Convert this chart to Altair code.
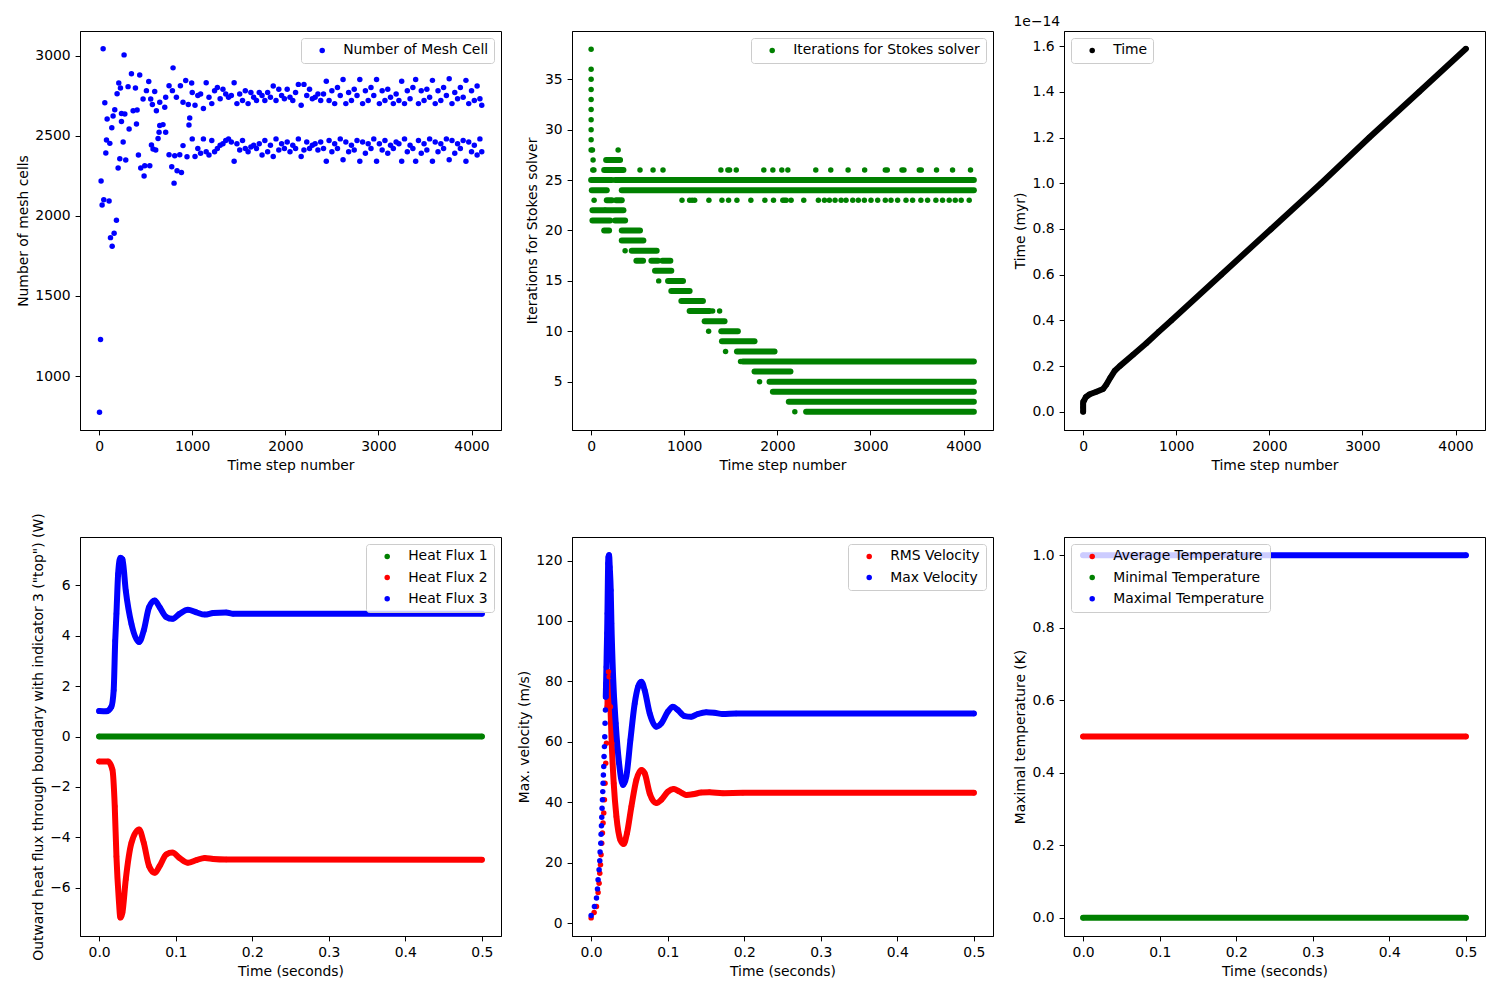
import altair as alt
import pandas as pd

FONT = "DejaVu Sans"
FS = 13.9
BLUE, GREEN, RED, BLACK = "#0000ff", "#008000", "#ff0000", "#000000"

# ---------------- axis ticks / domains ----------------
STEP_TICKS = [0, 1000, 2000, 3000, 4000]
STEP_DOMAIN = [-205.5, 4316.5]
TIME_TICKS = [0.0, 0.1, 0.2, 0.3, 0.4, 0.5]
TIME_DOMAIN = [-0.025, 0.525]
MESH_TICKS = [1000, 1500, 2000, 2500, 3000]
MESH_DOMAIN = [664, 3153]
ITER_TICKS = [5, 10, 15, 20, 25, 30, 35]
ITER_DOMAIN = [0.2, 39.8]
TIMEMYR_TICKS = [0.0, 0.2, 0.4, 0.6, 0.8, 1.0, 1.2, 1.4, 1.6]
TIMEMYR_DOMAIN = [-0.0794, 1.666]
FLUX_TICKS = [-6, -4, -2, 0, 2, 4, 6]
FLUX_DOMAIN = [-7.92, 7.92]
VEL_TICKS = [0, 20, 40, 60, 80, 100, 120]
VEL_DOMAIN = [-4.3, 127.8]
TEMP_TICKS = [0.0, 0.2, 0.4, 0.6, 0.8, 1.0]
TEMP_DOMAIN = [-0.05, 1.05]

# ---------------- panel 1 : number of mesh cells ----------------
mesh_early_steps = [4, 15, 21, 32, 50, 107, 122, 140, 161, 186, 43, 268, 347, 436, 794, 211, 229, 311, 390, 533,
                    193, 61, 168, 86, 136, 150, 240, 276, 240, 322, 365, 408, 401, 472, 508, 597, 554, 572, 615, 651,
                    705, 715, 751, 787, 830, 873, 930, 994, 901, 958, 973, 965, 651, 686, 715, 644, 633, 79, 115, 258,
                    72, 422, 562, 579, 608, 222, 286, 204, 447, 490, 544, 483, 751, 812, 866, 780, 837, 884, 805, 901,
                    944]
mesh_early_cells = [775, 1229, 2217, 2067, 2100, 2092, 1864, 1810, 1892, 1973, 3042, 3004, 2886, 2879, 2923, 2829, 2798, 2806, 2798, 2838,
                    2762, 2706, 2662, 2604, 2550, 2623, 2639, 2635, 2589, 2542, 2656, 2660, 2573, 2729, 2781, 2775, 2729, 2694, 2656, 2708,
                    2677, 2740, 2812, 2781, 2740, 2812, 2844, 2829, 2708, 2694, 2610, 2567, 2563, 2569, 2521, 2521, 2483, 2473, 2452, 2460,
                    2392, 2379, 2442, 2417, 2411, 2356, 2348, 2298, 2298, 2313, 2313, 2248, 2381, 2375, 2381, 2306, 2281, 2271, 2204, 2438,
                    2369]
mesh_late_steps = [1000, 1030, 1060, 1090, 1120, 1150, 1180, 1210, 1240, 1270, 1300, 1330, 1360, 1390,
                   1420, 1450, 1480, 1510, 1540, 1570, 1600, 1630, 1660, 1690, 1720, 1750, 1780, 1810, 1840, 1870, 1900, 1930, 1960, 1990,
                   2020, 2050, 2080, 2110, 2140, 2170, 2200, 2230, 2260, 2290, 2320, 2350, 2380, 2410,
                   2440, 2470, 2500, 2530, 2560, 2590, 2620, 2650, 2680, 2710, 2740, 2770, 2800, 2830, 2860, 2890, 2920, 2950, 2980, 3010,
                   3040, 3070, 3100, 3130, 3160, 3190, 3220, 3250, 3280, 3310, 3340, 3370, 3400, 3430, 3460, 3490, 3520, 3550, 3580, 3610,
                   3640, 3670, 3700, 3730, 3760, 3790, 3820, 3850, 3880, 3910, 3940, 3970, 4000, 4030, 4060, 4090,
                   4110]
mesh_upper_cells = [2770, 2690, 2750, 2760, 2670, 2830, 2740, 2700, 2780, 2800, 2730, 2790, 2760, 2740,
                    2750, 2830, 2700, 2760, 2720, 2780, 2700, 2770, 2740, 2720, 2770, 2750, 2720, 2770, 2740, 2810, 2720, 2790, 2750, 2730,
                    2790, 2740, 2720, 2770, 2820, 2690, 2820, 2750, 2790, 2730, 2740, 2760, 2720, 2760,
                    2840, 2720, 2780, 2700, 2800, 2750, 2850, 2700, 2770, 2720, 2790, 2750, 2850, 2700, 2780, 2720, 2800, 2750, 2850, 2700,
                    2780, 2720, 2790, 2740, 2700, 2760, 2720, 2840, 2700, 2780, 2730, 2800, 2850, 2700, 2780, 2720, 2790, 2740, 2845, 2700,
                    2780, 2720, 2800, 2750, 2855, 2700, 2770, 2730, 2800, 2740, 2845, 2700, 2780, 2720, 2810, 2730,
                    2690]
mesh_lower_cells = [2480, 2370, 2420, 2390, 2480, 2400, 2380, 2470, 2400, 2420, 2440, 2450, 2470, 2480,
                    2460, 2340, 2450, 2410, 2470, 2420, 2400, 2430, 2440, 2420, 2450, 2380, 2470, 2400, 2440, 2370, 2480, 2410, 2450, 2420,
                    2460, 2400, 2440, 2420, 2480, 2370, 2410, 2460, 2420, 2440, 2450, 2410, 2460, 2420,
                    2340, 2470, 2400, 2450, 2420, 2480, 2350, 2460, 2400, 2440, 2410, 2470, 2340, 2460, 2390, 2450, 2420, 2480, 2340, 2450,
                    2410, 2470, 2390, 2440, 2420, 2460, 2450, 2340, 2480, 2400, 2440, 2420, 2340, 2470, 2390, 2450, 2410, 2480, 2340, 2460,
                    2400, 2450, 2420, 2480, 2350, 2470, 2390, 2450, 2420, 2470, 2340, 2460, 2400, 2440, 2380, 2480,
                    2400]

# ---------------- panel 2 : Stokes iterations ----------------
# isolated dots: (level, step)
iter_misc_dots = [(38, 0), (36, 0), (35, 0), (34, 0), (33, 0), (32, 0), (31, 0), (30, 0), (29, 0), (28, 0),
                  (28, 14), (27, 21), (28, 290), (23, 32), (18, 365), (15, 726), (12, 1305), (12, 1380),
                  (10, 1262), (8, 1444), (7, 1605), (5, 1809), (2, 2188)]
iter26_steps = [18, 30, 525, 665, 772, 1394, 1469, 1487, 1559, 1855, 1952, 2048, 2113, 2413, 2574, 2760, 2938,
                3160, 3181, 3339, 3360, 3525, 3546, 3710, 3882, 4075]
iter23_steps = [976, 1058, 1085, 1112, 1265, 1405, 1476, 1566, 1716, 1866, 1959, 2059, 2077, 2095, 2148, 2284,
                2441, 2506, 2559, 2620, 2685, 2738, 2810, 2870, 2935, 3006, 3078, 3160, 3221, 3292, 3382, 3453,
                3542, 3614, 3703, 3775, 3846, 3911, 3975, 4061]
# continuous runs of dots: (level, first step, last step)
iter_runs = [(27, 161, 311), (26, 140, 347), (25, 0, 222), (25, 257, 4111), (24, 7, 168), (24, 329, 4111),
             (23, 168, 222), (23, 268, 329), (22, 14, 143), (22, 157, 347), (21, 14, 204), (21, 257, 365),
             (20, 140, 193), (20, 329, 525), (19, 329, 561), (18, 436, 704), (17, 486, 558), (17, 647, 718),
             (17, 765, 851), (16, 686, 861), (15, 826, 987), (14, 861, 1058), (13, 969, 1201), (12, 1058, 1273),
             (11, 1219, 1433), (10, 1398, 1576), (9, 1405, 1755), (8, 1566, 1970), (7, 1630, 4111),
             (6, 1755, 2141), (5, 1916, 4111), (4, 1952, 4111), (3, 2123, 4111), (2, 2309, 4111)]

# ---------------- panel 3 : model time (units of 1e-14) ----------------
time_steps = [0, 0, 0, 2, 11, 30, 71, 143, 214, 250, 293, 340, 393, 536, 679, 811, 947, 1483, 2020, 2556, 3074, 3610, 4111]
time_values = [0.0, 0.02, 0.035, 0.045, 0.05, 0.065, 0.077, 0.088, 0.10, 0.12, 0.15, 0.18, 0.20, 0.25, 0.30, 0.35,
               0.40, 0.60, 0.80, 1.00, 1.20, 1.40, 1.588]

# ---------------- panel 4 : heat flux ----------------
flux1_t = [0.0, 0.5]
flux1_v = [0.0, 0.0]
flux2_t = [0.0, 0.0117, 0.0174, 0.0204, 0.0226, 0.0257, 0.0278, 0.0304, 0.0348, 0.0422, 0.0522, 0.0583, 0.0652, 0.0726,
           0.0791, 0.0878, 0.0957, 0.105, 0.116, 0.127, 0.138, 0.149, 0.166, 0.5]
flux2_v = [-0.99, -0.99, -1.32, -2.77, -4.76, -6.47, -7.19, -6.99, -5.67, -4.22, -3.69, -4.22, -5.14, -5.41,
           -5.14, -4.68, -4.61, -4.82, -5.01, -4.91, -4.82, -4.86, -4.88, -4.89]
flux3_t = [0.0, 0.0096, 0.016, 0.019, 0.021, 0.0226, 0.0248, 0.0278, 0.0304, 0.0348, 0.0422, 0.0522, 0.0583, 0.0652,
           0.0726, 0.0791, 0.0878, 0.0957, 0.105, 0.116, 0.127, 0.138, 0.149, 0.166, 0.175, 0.5]
flux3_v = [1.01, 1.0, 1.18, 1.84, 3.8, 4.87, 6.45, 7.1, 7.04, 5.79, 4.47, 3.75, 4.21, 5.13,
           5.4, 5.13, 4.74, 4.67, 4.87, 5.03, 4.93, 4.84, 4.9, 4.92, 4.87, 4.87]

# ---------------- panel 5 : velocities ----------------
rms_sparse_t = [0.0, 0.0039, 0.007, 0.0091, 0.0104, 0.0113, 0.0122, 0.013, 0.0139, 0.0148, 0.0156, 0.0165, 0.0174,
                0.0182, 0.0191, 0.02, 0.0213]
rms_sparse_v = [1.7, 3.5, 5.5, 10.1, 13.2, 16.5, 19.3, 22.6, 26.4, 29.8, 33.1, 36.4, 40.8, 46.3, 52.9, 59.5, 71.6]
rms_dense_t = [0.0213, 0.0226, 0.0235, 0.0252, 0.0269, 0.0295, 0.033, 0.0382, 0.0426, 0.0469, 0.0526, 0.0591, 0.0656,
               0.0699, 0.0765, 0.0851, 0.0917, 0.1003, 0.1077, 0.1156, 0.1242, 0.1329, 0.1438, 0.1546, 0.172, 0.1981, 0.5]
rms_dense_v = [71.6, 83.2, 81.5, 71.6, 59.5, 46.3, 35.3, 27.5, 26.2, 29.8, 38.6, 47.4, 50.7,
               49.6, 42.9, 39.7, 40.8, 43.5, 44.4, 43.5, 42.4, 42.6, 43.2, 43.3, 43.0, 43.1, 43.1]
max_sparse_t = [0.0, 0.0043, 0.007, 0.0083, 0.0091, 0.0104, 0.0113, 0.0117, 0.0126, 0.013, 0.0135, 0.0139, 0.0143,
                0.0148, 0.0152, 0.0156, 0.016, 0.0165, 0.0169, 0.0174, 0.0178, 0.0182, 0.0187, 0.0191]
max_sparse_v = [2.5, 5.5, 8.3, 11.3, 14.3, 17.6, 20.6, 23.5, 26.4, 29.4, 32.2, 35.0, 38.0,
                40.8, 43.5, 46.3, 49.0, 51.8, 55.1, 58.4, 61.7, 66.1, 70.5, 74.9]
max_dense_t = [0.0191, 0.0195, 0.02, 0.0204, 0.0209, 0.0213, 0.0217, 0.0222, 0.0226, 0.0235, 0.0243, 0.0256, 0.0265,
               0.0287, 0.0321, 0.0365, 0.0417, 0.046, 0.0513, 0.0569, 0.0613, 0.0656, 0.0699, 0.0765, 0.0851, 0.0917,
               0.1003, 0.1069, 0.1134, 0.1221, 0.1308, 0.1394, 0.1503, 0.1612, 0.172, 0.1894, 0.5]
max_dense_v = [74.9, 79.3, 84.8, 90.4, 95.9, 102.5, 110.2, 119.0, 121.2, 121.8, 117.9, 110.2, 99.2,
               81.5, 66.1, 52.9, 45.7, 48.5, 60.6, 72.7, 78.2, 79.9, 77.1, 69.4, 65.0, 66.1,
               70.0, 71.6, 70.5, 68.5, 68.3, 69.2, 69.8, 69.6, 69.2, 69.4, 69.4]

# ---------------- panel 6 : temperatures ----------------
temp_t = [0.0, 0.5]
temp_avg = [0.5, 0.5]
temp_min = [0.0, 0.0]
temp_max = [1.0, 1.0]

W, H = 421, 399


def legend(orient):
    return alt.Legend(title=None, orient=orient)


def xq(field, domain, ticks, fmt, title):
    return alt.X(field, type="quantitative",
                 scale=alt.Scale(domain=domain, nice=False, zero=False),
                 axis=alt.Axis(values=ticks, format=fmt, title=title))


def yq(field, domain, ticks, fmt, title):
    return alt.Y(field, type="quantitative",
                 scale=alt.Scale(domain=domain, nice=False, zero=False),
                 axis=alt.Axis(values=ticks, format=fmt, title=title))


def series_lines(df, names, colors, x, y, interp="linear"):
    out = []
    for n, c in zip(names, colors):
        out.append(
            alt.Chart(df).transform_filter(alt.FieldEqualPredicate(field="s", equal=n)).mark_line(
                color=c, strokeWidth=6, strokeCap="round", strokeJoin="round", interpolate=interp
            ).encode(x=x, y=y)
        )
    return out


# ----- panel 1 -----
df1 = pd.DataFrame({
    "step": mesh_early_steps + mesh_late_steps + mesh_late_steps,
    "cells": mesh_early_cells + mesh_upper_cells + mesh_lower_cells,
})
df1["s"] = "Number of Mesh Cell"
p1 = alt.Chart(df1).mark_circle(size=30, opacity=1).encode(
    x=xq("step", STEP_DOMAIN, STEP_TICKS, "d", "Time step number"),
    y=yq("cells", MESH_DOMAIN, MESH_TICKS, "d", "Number of mesh cells"),
    color=alt.Color("s:N", scale=alt.Scale(domain=["Number of Mesh Cell"], range=[BLUE]), legend=legend("top-right")),
).properties(width=W, height=H)

# ----- panel 2 -----
dot_levels = [d[0] for d in iter_misc_dots] + [26] * len(iter26_steps) + [23] * len(iter23_steps)
dot_steps = [d[1] for d in iter_misc_dots] + iter26_steps + iter23_steps
df2d = pd.DataFrame({"step": dot_steps, "level": dot_levels})
df2d["s"] = "Iterations for Stokes solver"
df2r = pd.DataFrame(iter_runs, columns=["level", "start", "end"])
runs2 = alt.Chart(df2r).mark_rule(strokeWidth=6, strokeCap="round", color=GREEN).encode(
    x=xq("start", STEP_DOMAIN, STEP_TICKS, "d", "Time step number"),
    x2="end:Q",
    y=yq("level", ITER_DOMAIN, ITER_TICKS, "d", "Iterations for Stokes solver"),
)
dots2 = alt.Chart(df2d).mark_circle(size=30, opacity=1).encode(
    x=xq("step", STEP_DOMAIN, STEP_TICKS, "d", "Time step number"),
    y=yq("level", ITER_DOMAIN, ITER_TICKS, "d", "Iterations for Stokes solver"),
    color=alt.Color("s:N", scale=alt.Scale(domain=["Iterations for Stokes solver"], range=[GREEN]),
                    legend=legend("top-right")),
)
p2 = alt.layer(runs2, dots2).properties(width=W, height=H)

# ----- panel 3 -----
df3 = pd.DataFrame({"step": time_steps, "tm": time_values})
df3["s"] = "Time"
x3 = xq("step", STEP_DOMAIN, STEP_TICKS, "d", "Time step number")
y3 = yq("tm", TIMEMYR_DOMAIN, TIMEMYR_TICKS, ".1f", "Time (myr)")
pts3 = alt.Chart(df3).mark_circle(size=30, opacity=1).encode(
    x=x3, y=y3,
    color=alt.Color("s:N", scale=alt.Scale(domain=["Time"], range=[BLACK]), legend=legend("top-left")),
)
p3 = alt.layer(*series_lines(df3, ["Time"], [BLACK], x3, y3), pts3).properties(
    width=W, height=H,
    title=alt.TitleParams("1e\u221214", anchor="start", fontSize=FS, font=FONT, fontWeight="normal",
                          color="black", offset=2),
)

# ----- panel 4 -----
flux_names = ["Heat Flux 1", "Heat Flux 2", "Heat Flux 3"]
flux_colors = [GREEN, RED, BLUE]
df4 = pd.concat([
    pd.DataFrame({"t": flux1_t, "v": flux1_v, "s": flux_names[0]}),
    pd.DataFrame({"t": flux2_t, "v": flux2_v, "s": flux_names[1]}),
    pd.DataFrame({"t": flux3_t, "v": flux3_v, "s": flux_names[2]}),
], ignore_index=True)
ytitle4 = 'Outward heat flux through boundary with indicator 3 ("top") (W)'
x4 = xq("t", TIME_DOMAIN, TIME_TICKS, ".1f", "Time (seconds)")
y4 = yq("v", FLUX_DOMAIN, FLUX_TICKS, "d", ytitle4)
pts4 = alt.Chart(df4).mark_circle(size=30, opacity=1).encode(
    x=x4, y=y4,
    color=alt.Color("s:N", scale=alt.Scale(domain=flux_names, range=flux_colors), legend=legend("top-right")),
)
p4 = alt.layer(*series_lines(df4, flux_names, flux_colors, x4, y4, "monotone"), pts4).properties(width=W, height=H)

# ----- panel 5 -----
vel_names = ["RMS Velocity", "Max Velocity"]
vel_colors = [RED, BLUE]
df5d = pd.concat([
    pd.DataFrame({"t": rms_dense_t, "v": rms_dense_v, "s": vel_names[0]}),
    pd.DataFrame({"t": max_dense_t, "v": max_dense_v, "s": vel_names[1]}),
], ignore_index=True)
df5p = pd.concat([
    pd.DataFrame({"t": rms_sparse_t + rms_dense_t, "v": rms_sparse_v + rms_dense_v, "s": vel_names[0]}),
    pd.DataFrame({"t": max_sparse_t + max_dense_t, "v": max_sparse_v + max_dense_v, "s": vel_names[1]}),
], ignore_index=True)
x5 = xq("t", TIME_DOMAIN, TIME_TICKS, ".1f", "Time (seconds)")
y5 = yq("v", VEL_DOMAIN, VEL_TICKS, "d", "Max. velocity (m/s)")
pts5 = alt.Chart(df5p).mark_circle(size=30, opacity=1).encode(
    x=x5, y=y5,
    color=alt.Color("s:N", scale=alt.Scale(domain=vel_names, range=vel_colors), legend=legend("top-right")),
)
lines5 = series_lines(df5d, vel_names, vel_colors, x5, y5, "monotone")
p5 = alt.layer(lines5[0], lines5[1], pts5).properties(width=W, height=H)

# ----- panel 6 -----
temp_names = ["Average Temperature", "Minimal Temperature", "Maximal Temperature"]
temp_colors = [RED, GREEN, BLUE]
df6 = pd.concat([
    pd.DataFrame({"t": temp_t, "v": temp_avg, "s": temp_names[0]}),
    pd.DataFrame({"t": temp_t, "v": temp_min, "s": temp_names[1]}),
    pd.DataFrame({"t": temp_t, "v": temp_max, "s": temp_names[2]}),
], ignore_index=True)
x6 = xq("t", TIME_DOMAIN, TIME_TICKS, ".1f", "Time (seconds)")
y6 = yq("v", TEMP_DOMAIN, TEMP_TICKS, ".1f", "Maximal temperature (K)")
pts6 = alt.Chart(df6).mark_circle(size=30, opacity=1).encode(
    x=x6, y=y6,
    color=alt.Color("s:N", scale=alt.Scale(domain=temp_names, range=temp_colors), legend=legend("top-left")),
)
p6 = alt.layer(*series_lines(df6, temp_names, temp_colors, x6, y6), pts6).properties(width=W, height=H)

chart = alt.concat(
    p1, p2, p3, p4, p5, p6, columns=3,
    spacing={"row": 107, "column": 71}, bounds="flush",
).resolve_scale(
    x="independent", y="independent", color="independent"
).resolve_legend(color="independent").properties(
    padding={"left": 7, "top": 6, "right": 5, "bottom": 5}
).configure_view(
    stroke="black", strokeWidth=1
).configure_axis(
    labelFont=FONT, labelFontSize=FS, labelColor="black",
    titleFont=FONT, titleFontSize=FS, titleFontWeight="normal", titleColor="black",
    domainColor="black", domainWidth=1, tickColor="black", tickWidth=1, tickSize=4.9,
    labelPadding=4.9, titlePadding=4.6, grid=False,
).configure_legend(
    labelFont=FONT, labelFontSize=FS, labelColor="black", labelLimit=400,
    strokeColor="#cccccc", fillColor="rgba(255,255,255,0.8)", cornerRadius=3,
    padding=5.5, offset=7, rowPadding=6.1,
    symbolType="circle", symbolSize=30, symbolStrokeWidth=0,
    symbolOffset=8.76, labelOffset=14,
)

chart.save("out.html", embed_options={"renderer": "svg", "actions": False})
